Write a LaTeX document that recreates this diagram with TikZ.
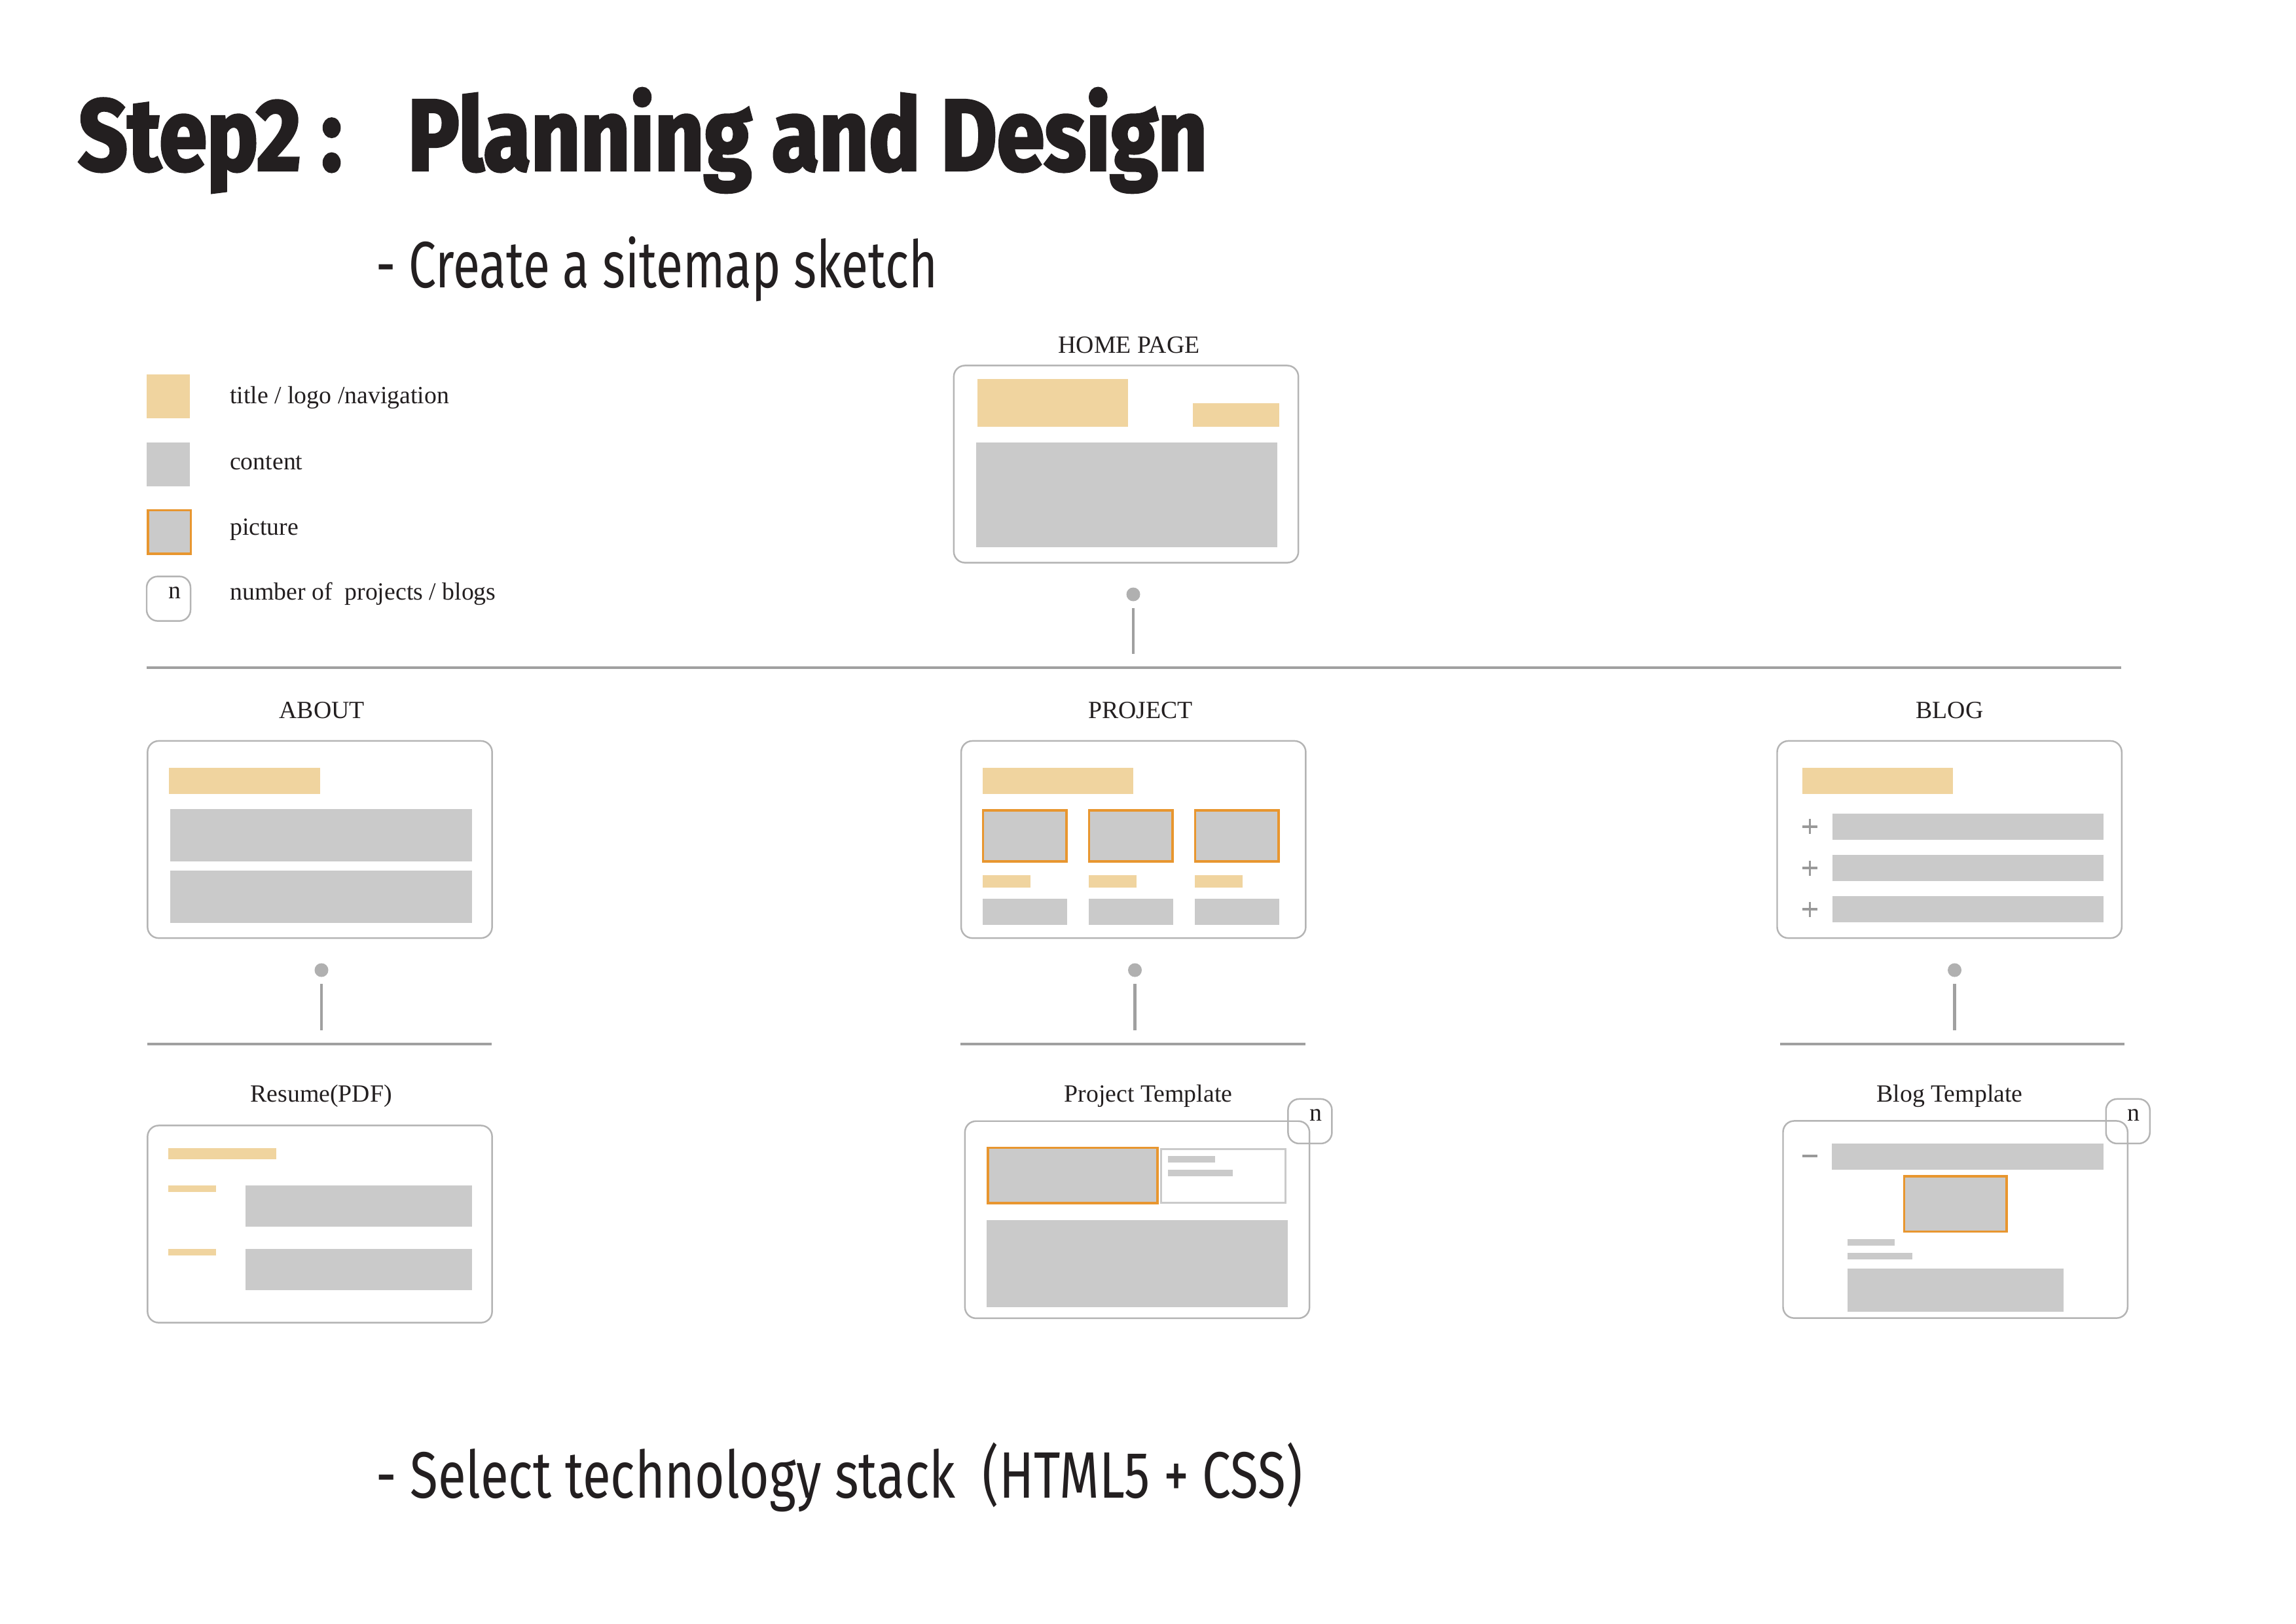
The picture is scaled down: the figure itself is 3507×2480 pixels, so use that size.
\documentclass[tikz,border=0pt]{standalone}
\usepackage{fontspec}
\setmainfont{Liberation Serif}
\newfontfamily\headfont[FakeStretch=0.85, BoldFeatures={FakeBold=2.5}]{Fira Sans}
\newfontfamily\subfont[FakeStretch=0.748]{Fira Sans}
\newfontfamily\stackfont[FakeStretch=0.78]{Fira Sans}
\usepackage{tikz}

\definecolor{navfill}{HTML}{F0D49F}
\definecolor{contentfill}{HTML}{CACACA}
\definecolor{picline}{HTML}{E8962F}
\definecolor{framegray}{HTML}{B4B4B4}
\definecolor{linkgray}{HTML}{A0A0A0}
\definecolor{dotgray}{HTML}{B0B0B0}
\definecolor{markgray}{HTML}{999999}
\definecolor{inkblack}{HTML}{231F20}

\begin{document}
\begin{tikzpicture}[x=0.01cm, y=-0.01cm,
    every node/.style={inner sep=0pt, text=inkblack},
    pagename/.style={font=\fontsize{10.75}{13}\selectfont, anchor=base},
    legendtext/.style={font=\fontsize{10.75}{13}\selectfont, anchor=base west},
    pagebox/.style={draw=framegray, line width=0.7pt, rounded corners=0.17cm, minimum width=5.26cm, minimum height=3.01cm},
    nbox/.style={draw=framegray, line width=0.7pt, rounded corners=0.17cm, minimum width=0.67cm, minimum height=0.68cm},
    ntext/.style={font=\fontsize{10.75}{13}\selectfont, anchor=base},
    navbar/.style={fill=navfill},
    textblock/.style={fill=contentfill},
    picbox/.style={fill=contentfill, draw=picline, line width=1pt},
    dotnode/.style={circle, fill=dotgray, minimum size=0.21cm},
    stem/.style={draw=linkgray, line width=1.2pt, shorten <=0.21cm, shorten >=0.21cm},
    hbar/.style={draw=linkgray, line width=1.1pt},
    signline/.style={draw=markgray, line width=1.1pt}]
    \useasboundingbox (0,0) rectangle (3507,2480);

    % --- Headings ---
    \node[anchor=base west, font=\headfont\bfseries\fontsize{44}{48}\selectfont] (steptitle) at (119,260) {Step2 :};
    \node[anchor=base west, font=\headfont\bfseries\fontsize{44}{48}\selectfont] (plantitle) at (622,260) {Planning and Design};
    \node[anchor=base west, font=\subfont\fontsize{28.5}{32}\selectfont] (sitemap) at (574,439) {- Create a sitemap sketch};
    \node[anchor=base west, font=\stackfont\fontsize{28.5}{32}\selectfont] (techstack) at (573.5,2288) {- Select technology stack~~(HTML5 + CSS)};

    % --- Legend ---
    \fill[navbar] (224.2,572.3) rectangle (289.6,639);
    \fill[textblock] (224.2,676) rectangle (289.6,742.7);
    \draw[picbox] (225.9,779.4) rectangle (291.3,846);
    \node[nbox] (legn) at (257.5,914.6) {};
    \node[ntext] (legnt) at ([xshift=0.09cm]legn.center) {n};
    \node[legendtext] (legnav) at (350.5,616.7) {title / logo /navigation};
    \node[legendtext] (legcontent) at (350.5,717) {content};
    \node[legendtext] (legpic) at (350.5,817) {picture};
    \node[legendtext] (legnum) at (350.5,916.7) {number of~ projects / blogs};

    % --- Home page ---
    \node[pagename] (homename) at (1724.5,539) {HOME PAGE};
    \node[pagebox] (home) at (1720,709) {};
    \fill[navbar] (1493,579) rectangle (1723,652);
    \fill[navbar] (1822,616) rectangle (1954,652);
    \fill[textblock] (1491,676) rectangle (1951,836);
    \node[dotnode] (homedot) at (1731,908) {};
    \coordinate (bartopw) at (224,1020);
    \coordinate (bartope) at (3240,1020);
    \draw[stem] (homedot.center) -- (homedot.center |- bartopw);
    \draw[hbar] (bartopw) -- (bartope);

    % --- About ---
    \node[pagename] (aboutname) at (491.8,1097) {ABOUT};
    \node[pagebox] (about) at (488.5,1282.5) {};
    \fill[navbar] (258,1173) rectangle (488.5,1213);
    \fill[textblock] (260,1236) rectangle (720.5,1316);
    \fill[textblock] (260,1330) rectangle (720.5,1410);
    \node[dotnode] (aboutdot) at (491,1482) {};
    \coordinate (aboutbarw) at (225,1595);
    \coordinate (aboutbare) at (751,1595);
    \draw[stem] (aboutdot.center) -- (aboutdot.center |- aboutbarw);
    \draw[hbar] (aboutbarw) -- (aboutbare);

    % --- Project ---
    \node[pagename] (projectname) at (1742,1097) {PROJECT};
    \node[pagebox] (project) at (1731.25,1282.5) {};
    \fill[navbar] (1501,1173) rectangle (1731,1213);
    \foreach \px in {1501,1663,1825} {
        \draw[picbox] (\px+0.5,1237.8) rectangle (\px+128,1316.2);
        \fill[navbar] (\px,1336.6) rectangle (\px+72.6,1356.4);
        \fill[textblock] (\px,1373) rectangle (\px+128.5,1413);
    }
    \node[dotnode] (projectdot) at (1733.5,1482) {};
    \coordinate (projectbarw) at (1467,1595);
    \coordinate (projectbare) at (1994,1595);
    \draw[stem] (projectdot.center) -- (projectdot.center |- projectbarw);
    \draw[hbar] (projectbarw) -- (projectbare);

    % --- Blog ---
    \node[pagename] (blogname) at (2978,1097) {BLOG};
    \node[pagebox] (blog) at (2977.6,1282.5) {};
    \fill[navbar] (2753,1173) rectangle (2983,1213);
    \foreach \py in {1242.8,1306,1369.2} {
        \draw[signline] (2753,\py+20) -- (2776,\py+20) (2764.5,\py+8.5) -- (2764.5,\py+31.5);
        \fill[textblock] (2798.7,\py) rectangle (3213,\py+40);
    }
    \node[dotnode] (blogdot) at (2985.5,1482) {};
    \coordinate (blogbarw) at (2719,1595);
    \coordinate (blogbare) at (3245,1595);
    \draw[stem] (blogdot.center) -- (blogdot.center |- blogbarw);
    \draw[hbar] (blogbarw) -- (blogbare);

    % --- Resume (PDF) ---
    \node[pagename] (resumename) at (490.7,1683) {Resume(PDF)};
    \node[pagebox] (resume) at (488.5,1870) {};
    \fill[navbar] (257.4,1754) rectangle (422,1770.7);
    \fill[navbar] (257.4,1811) rectangle (330,1821);
    \fill[textblock] (375,1811) rectangle (720.5,1874.3);
    \fill[navbar] (257.4,1907.7) rectangle (330,1917.7);
    \fill[textblock] (375,1907.7) rectangle (720.5,1971);

    % --- Project template ---
    \node[pagename] (projtplname) at (1754,1683) {Project Template};
    \node[pagebox] (projtpl) at (1737,1863.3) {};
    \draw[picbox] (1509,1753.5) rectangle (1768,1838.2);
    \draw[draw=contentfill, line width=0.85pt] (1773.7,1755.8) rectangle (1963.2,1837.8);
    \fill[textblock] (1784,1765.7) rectangle (1856,1775.7);
    \fill[textblock] (1784,1787) rectangle (1883,1797);
    \fill[textblock] (1507,1864) rectangle (1967.4,1996.7);
    \node[nbox] (projn) at (2000.9,1712.9) {};
    \node[ntext] (projnt) at ([xshift=0.09cm]projn.center) {n};

    % --- Blog template ---
    \node[pagename] (blogtplname) at (2978,1683) {Blog Template};
    \node[pagebox] (blogtpl) at (2986.6,1863) {};
    \draw[signline] (2753,1766.3) -- (2776,1766.3);
    \fill[textblock] (2798.3,1747) rectangle (3213.3,1786.7);
    \draw[picbox] (2908.6,1797) rectangle (3064.8,1881.3);
    \fill[textblock] (2821.9,1892.7) rectangle (2894,1902.7);
    \fill[textblock] (2821.9,1914.3) rectangle (2920.6,1924.3);
    \fill[textblock] (2821.9,1937.7) rectangle (3151.5,2003.7);
    \node[nbox] (blogn) at (3250.2,1712.9) {};
    \node[ntext] (blognt) at ([xshift=0.09cm]blogn.center) {n};
\end{tikzpicture}
\end{document}
